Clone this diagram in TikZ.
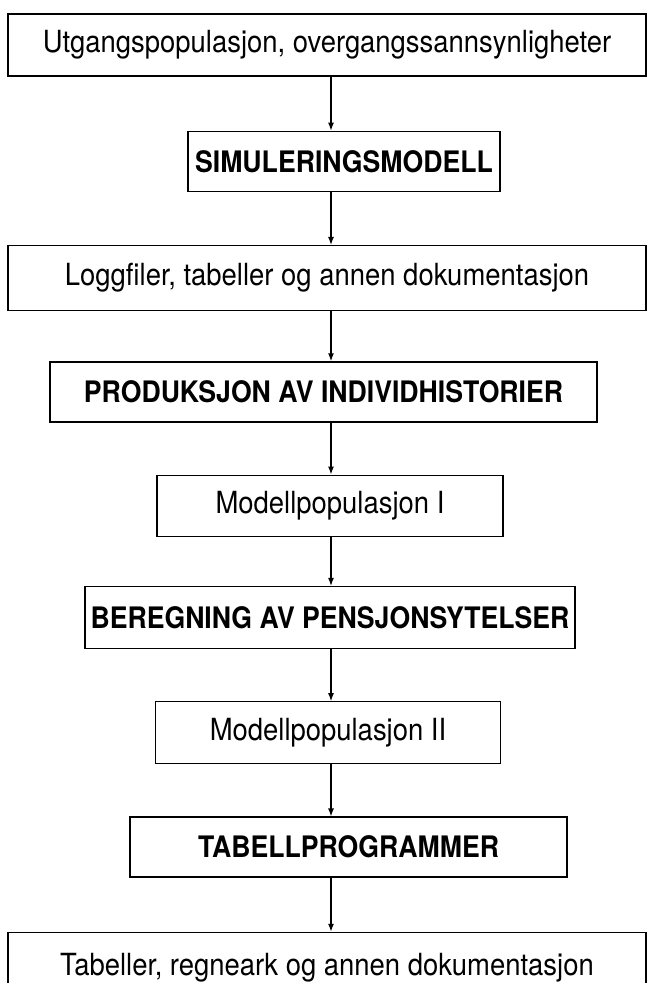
\documentclass[tikz,border=0pt]{standalone}
\usepackage{fontspec}
\setmainfont{TeX Gyre Heros}[FakeStretch = 0.9]
\usetikzlibrary{arrows.meta,positioning}

\begin{document}
\begin{tikzpicture}[
	x = 1pt, y = 1pt,
	box/.style = {draw = black, line width = 1.3pt, inner sep = 0pt, font = \fontsize{30.5}{36}\selectfont},
	bbox/.style = {box, font = \fontsize{29.6}{35}\selectfont\bfseries},
	flow/.style = {-{Latex[length = 8pt, width = 6pt]}, line width = 1.2pt}
	]
	
	\useasboundingbox (0, 0) rectangle (649, -983);
	\coordinate (axis) at (331, 0);
	
	\node[box, minimum width = 638pt, minimum height = 62pt] (utgang) at (327, -45) {Utgangspopulasjon, overgangssannsynligheter};
	\node[bbox, minimum width = 312pt, minimum height = 60pt, below = 54pt of utgang, xshift = 17pt] (simmod) {SIMULERINGSMODELL};
	\node[box, minimum width = 638pt, minimum height = 65pt, below = 53pt of simmod, xshift = -17pt] (logg) {Loggfiler, tabeller og annen dokumentasjon};
	\node[bbox, minimum width = 547pt, minimum height = 60pt, below = 50pt of logg, xshift = -3.5pt] (prod) {PRODUKSJON AV INDIVIDHISTORIER};
	\node[box, minimum width = 346pt, minimum height = 61pt, below = 52pt of prod, xshift = 6.5pt] (modpop1) {Modellpopulasjon I};
	\node[bbox, minimum width = 490pt, minimum height = 62pt, below = 49pt of modpop1, xshift = 0pt] (beregn) {BEREGNING AV PENSJONSYTELSER};
	\node[box, minimum width = 345pt, minimum height = 62pt, below = 52pt of beregn, xshift = -2pt] (modpop2) {Modellpopulasjon II};
	\node[bbox, minimum width = 437pt, minimum height = 60pt, below = 52pt of modpop2, xshift = 20.5pt] (tabprog) {TABELLPROGRAMMER};
	\node[box, minimum width = 638pt, minimum height = 70pt, below = 54pt of tabprog, xshift = -21.5pt] (tabeller) {Tabeller, regneark og annen dokumentasjon};
	
	% arrows all run down the same vertical line
	\draw[flow] (utgang.south -| axis) -- (simmod.north -| axis);
	\draw[flow] (simmod.south -| axis) -- (logg.north -| axis);
	\draw[flow] (logg.south -| axis) -- (prod.north -| axis);
	\draw[flow] (prod.south -| axis) -- (modpop1.north -| axis);
	\draw[flow] (modpop1.south -| axis) -- (beregn.north -| axis);
	\draw[flow] (beregn.south -| axis) -- (modpop2.north -| axis);
	\draw[flow] (modpop2.south -| axis) -- (tabprog.north -| axis);
	\draw[flow] (tabprog.south -| axis) -- (tabeller.north -| axis);

\end{tikzpicture}
\end{document}
